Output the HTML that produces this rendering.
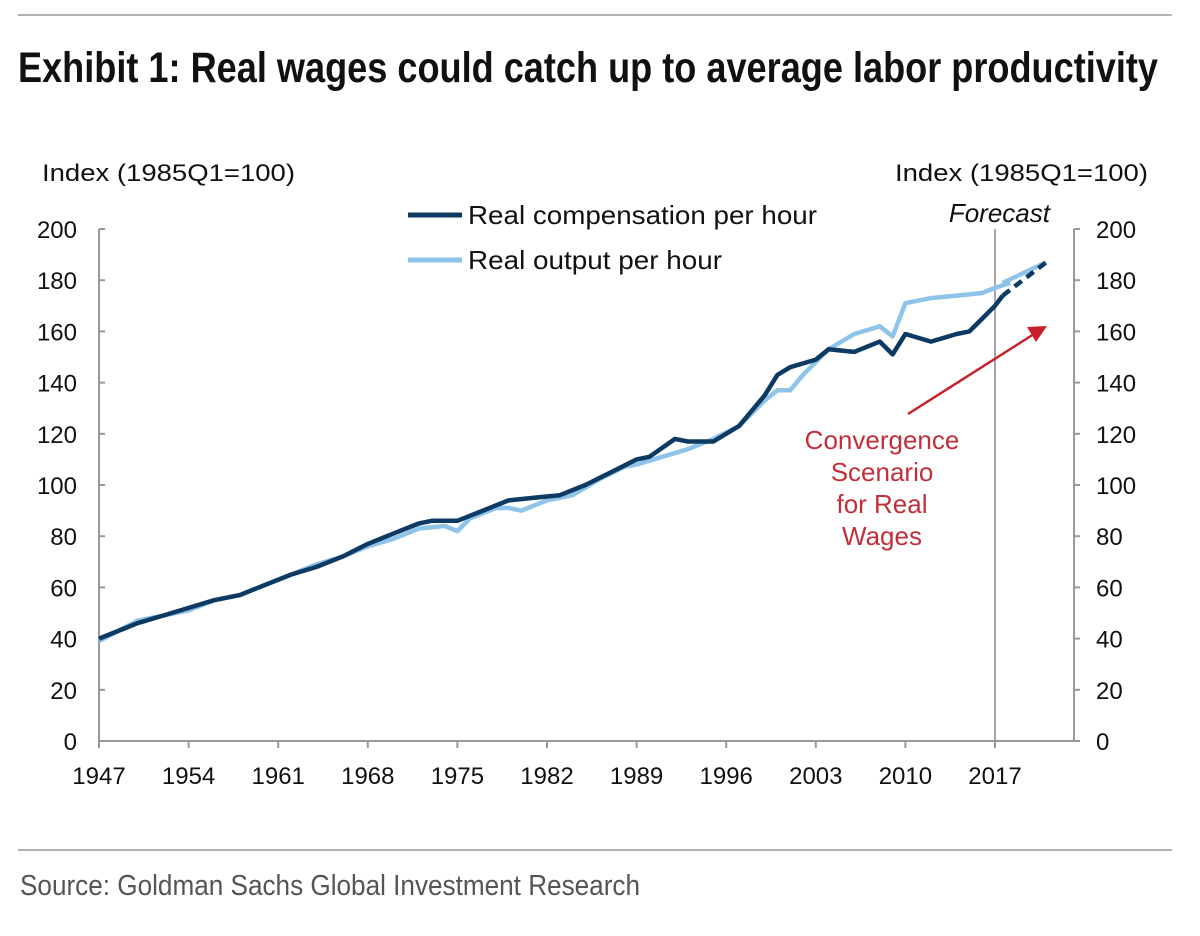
<!DOCTYPE html>
<html><head><meta charset="utf-8"><style>body{margin:0;background:#fff}svg{display:block}text{font-family:"Liberation Sans",sans-serif}</style></head>
<body>
<svg id="c" width="1200" height="936">
<line x1="18" y1="15" x2="1172" y2="15" stroke="#999" stroke-width="1.5"/>
<text x="18" y="82" font-size="43" font-weight="bold" textLength="1140" lengthAdjust="spacingAndGlyphs" fill="#111">Exhibit 1: Real wages could catch up to average labor productivity</text>
<text x="42" y="181" font-size="24" textLength="253" lengthAdjust="spacingAndGlyphs" fill="#111">Index (1985Q1=100)</text>
<text x="895" y="181" font-size="24" textLength="253" lengthAdjust="spacingAndGlyphs" fill="#111">Index (1985Q1=100)</text>
<g id="axes"></g>
<g id="series"></g>
<line x1="408" y1="215" x2="462" y2="215" stroke="#0d3a63" stroke-width="5"/>
<text x="468" y="224" font-size="26" textLength="349" lengthAdjust="spacingAndGlyphs" fill="#111">Real compensation per hour</text>
<line x1="408" y1="260" x2="462" y2="260" stroke="#8ec3ea" stroke-width="5"/>
<text x="468" y="269" font-size="26" textLength="254" lengthAdjust="spacingAndGlyphs" fill="#111">Real output per hour</text>
<text x="1050" y="222" font-size="26" font-style="italic" text-anchor="end" fill="#111">Forecast</text>
<line x1="908" y1="414" x2="1034" y2="334" stroke="#c8202a" stroke-width="2.5"/>
<polygon points="1047,326 1027,327 1036,342" fill="#c8202a"/>
<g font-size="26" fill="#c0303a" text-anchor="middle">
<text x="882" y="449">Convergence</text><text x="882" y="481">Scenario</text><text x="882" y="513">for Real</text><text x="882" y="545">Wages</text></g>
<line x1="18" y1="850" x2="1172" y2="850" stroke="#999" stroke-width="1.5"/>
<text x="20" y="895" font-size="29" fill="#555" textLength="620" lengthAdjust="spacingAndGlyphs">Source: Goldman Sachs Global Investment Research</text>
</svg>
<script>
const compYears=[1947,1949,1950,1952,1954,1956,1958,1960,1962,1964,1966,1968,1970,1972,1973,1975,1977,1979,1981,1983,1985,1987,1989,1990,1992,1993,1995,1997,1999,2000,2001,2003,2004,2006,2008,2009,2010,2012,2014,2015,2016,2017,2017.6];
const compVals=[40,44,46,49,52,55,57,61,65,68,72,77,81,85,86,86,90,94,95,96,100,105,110,111,118,117,117,123,135,143,146,149,153,152,156,151,159,156,159,160,165,170,174];
const outYears=[1947,1950,1952,1954,1956,1958,1960,1962,1964,1966,1968,1970,1972,1974,1975,1976,1978,1979,1980,1982,1984,1986,1988,1989,1991,1993,1995,1997,1999,2000,2001,2002,2004,2006,2008,2009,2010,2012,2014,2016,2017,2018.2];
const outVals=[39,47,49,51,55,57,61,65,69,72,76,79,83,84,82,87,91,91,90,94,96,102,107,108,111,114,118,123,133,137,137,143,153,159,162,158,171,173,174,175,177,179];
const fcYears=[2017.6,2021];
const fcCompVals=[174,187];
const fcOutVals=[179,187];
const yTicks=[0,20,40,60,80,100,120,140,160,180,200];
const xTicks=[1947,1954,1961,1968,1975,1982,1989,1996,2003,2010,2017];
const X=y=>99+(y-1947)*12.8, Y=v=>741-v*2.56;
const NS="http://www.w3.org/2000/svg";
const ax=document.getElementById('axes'), se=document.getElementById('series');
function mk(p,t,a){const e=document.createElementNS(NS,t);for(const k in a)e.setAttribute(k,a[k]);p.appendChild(e);return e;}
let e;
e=mk(ax,'line',{x1:99,y1:229,x2:99,y2:741,stroke:'#999','stroke-width':2});


e=mk(ax,'line',{x1:1074,y1:229,x2:1074,y2:741,stroke:'#999','stroke-width':2});


e=mk(ax,'line',{x1:99,y1:741,x2:1074,y2:741,stroke:'#999','stroke-width':2});


e=mk(ax,'line',{x1:995,y1:229,x2:995,y2:741,stroke:'#888','stroke-width':1.5});


yTicks.forEach(v=>{
 mk(ax,'line',{x1:99,y1:Y(v),x2:105,y2:Y(v),stroke:'#999','stroke-width':2});
 mk(ax,'line',{x1:1074,y1:Y(v),x2:1080,y2:Y(v),stroke:'#999','stroke-width':2});
 e=mk(ax,'text',{x:77,y:Y(v)+9,'font-size':24,'text-anchor':'end',fill:'#111'});e.textContent=v;
 
 
 e=mk(ax,'text',{x:1096,y:Y(v)+9,'font-size':24,fill:'#111'});e.textContent=v;
 
 
});
xTicks.forEach(y=>{
 mk(ax,'line',{x1:X(y),y1:741,x2:X(y),y2:748,stroke:'#999','stroke-width':2});
 e=mk(ax,'text',{x:X(y),y:784,'font-size':24,'text-anchor':'middle',fill:'#111'});e.textContent=y;
 
 
});
const pts=(xs,vs)=>xs.map((x,i)=>X(x).toFixed(1)+','+Y(vs[i]).toFixed(1)).join(' ');
e=mk(se,'polyline',{points:pts(outYears,outVals),fill:'none',stroke:'#8ec3ea','stroke-width':4.5,'stroke-linejoin':'round'});


e=mk(se,'polyline',{points:pts(fcYears,fcOutVals),fill:'none',stroke:'#8ec3ea','stroke-width':4.5});


e=mk(se,'polyline',{points:pts(compYears,compVals),fill:'none',stroke:'#0d3a63','stroke-width':4.5,'stroke-linejoin':'round'});


e=mk(se,'polyline',{points:pts(fcYears,fcCompVals),fill:'none',stroke:'#0d3a63','stroke-width':4.5,'stroke-dasharray':'9,6'});


</script>
</body></html>
